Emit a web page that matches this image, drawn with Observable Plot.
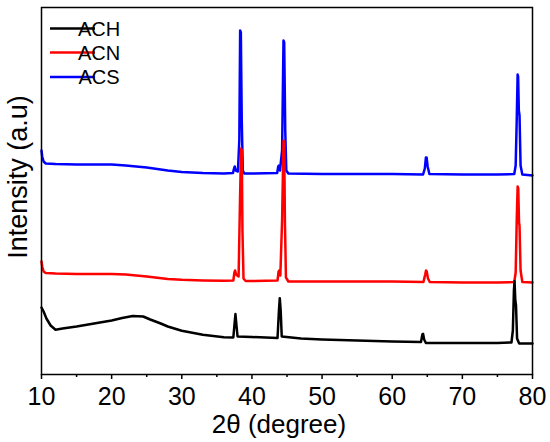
<!DOCTYPE html>
<html><head><meta charset="utf-8">
<script src="https://cdn.jsdelivr.net/npm/d3@7"></script>
<script src="https://cdn.jsdelivr.net/npm/@observablehq/plot@0.6"></script>
<style>body{margin:0;background:#fff} #chart{width:550px;height:442px}</style>
</head><body><div id="chart"></div>
<script>
const seriesNames = ["ACH", "ACN", "ACS"];
const seriesColors = ["#000000", "#ff0000", "#0000ff"];
const majorTicks = [10, 20, 30, 40, 50, 60, 70, 80];
const minorTicks = [15, 25, 35, 45, 55, 65, 75];
const xLabel = "2θ (degree)";
const yLabel = "Intensity (a.u)";

// [2θ, intensity (arbitrary units, offset stacked)]
const ACS = [[10.0,224],[10.1,218],[10.3,213],[10.6,211],[12,210.5],[15,210],[18,210],[20,210],[22,209],[25,207],[28,204],[30,202.5],[33,201.5],[36,201],[37.3,201.5],[37.45,206],[37.55,208],[37.7,204],[38.0,203],[38.2,234],[38.32,344],[38.42,342],[38.55,254],[38.7,204],[38.9,201],[40,201],[43.6,201.5],[43.75,208],[43.85,209],[44.0,204],[44.3,224],[44.5,334],[44.6,332],[44.75,244],[44.9,204],[45.2,201],[50,200.5],[55,200.5],[60,200.5],[64.4,200],[64.65,206],[64.8,217],[64.9,217],[65.05,208],[65.3,200.5],[70,200],[75,200],[77.4,200.5],[77.6,209],[77.75,254],[77.88,300],[77.95,298],[78.05,264],[78.15,259],[78.3,209],[78.55,200],[80,199]];
const ACN = [[10.0,113],[10.1,108],[10.3,103],[10.6,101.5],[12,101],[15,100.5],[18,100.5],[20,100.5],[22,100],[25,98],[28,95.5],[30,94.7],[33,94],[36,93.7],[37.35,94],[37.5,102],[37.6,104],[37.75,100],[38.1,98],[38.3,174],[38.45,226],[38.55,224],[38.65,144],[38.8,96],[39.1,93.5],[40,93.5],[43.65,94],[43.8,103],[43.9,104],[44.05,99],[44.3,154],[44.5,234],[44.6,232],[44.7,154],[44.85,97],[45.2,93],[50,93],[55,93],[60,93],[64.45,92.5],[64.7,100],[64.82,104],[64.92,103],[65.1,96],[65.35,92.5],[70,92],[75,92],[77.4,92.5],[77.6,102],[77.75,154],[77.88,188],[77.97,186],[78.08,152],[78.15,149],[78.3,104],[78.55,92.5],[80,92]];
const ACH = [[10.0,67],[10.3,63],[10.7,56],[11.3,49],[12.0,44.7],[13,46],[15,48],[17.5,51],[20,54],[21.5,56.5],[23,58.5],[24.5,58],[25.5,55],[27,51],[28,48],[30,43.7],[33,39.7],[36,37.3],[37.35,37],[37.5,49],[37.65,60.5],[37.8,49],[37.95,38],[40,37.5],[43.65,36.5],[43.85,64],[43.97,76.3],[44.1,64],[44.25,38],[47,36],[50,35],[55,34],[60,33],[64.1,32.5],[64.3,40],[64.4,40.7],[64.55,35],[64.8,31.5],[70,31.5],[75,31.5],[77.0,32],[77.2,44],[77.35,84],[77.44,93.3],[77.55,74],[77.65,69],[77.8,36],[78.1,31],[80,31]];

const seriesData = {ACH, ACN, ACS};
const drawOrder = ["ACS", "ACN", "ACH"];
const data = [];
for (const s of drawOrder) for (const [x, y] of seriesData[s]) data.push({x, y, s});

const W = 550, H = 442, mL = 41, mR = 18, mT = 7, mB = 68;
const font = "'Liberation Sans', Arial, Helvetica, sans-serif";

const svg = Plot.plot({
  width: W, height: H,
  marginLeft: mL, marginRight: mR, marginTop: mT, marginBottom: mB,
  x: {domain: [10, 80]},
  y: {domain: [0, 367], axis: null},
  color: {domain: seriesNames, range: seriesColors},
  style: {fontFamily: font, fontSize: "25px", color: "black", background: "white"},
  marks: [
    Plot.line(data, {x: "x", y: "y", z: "s", stroke: "s", strokeWidth: 2.5, strokeLinejoin: "round"}),
    Plot.frame({stroke: "black", strokeWidth: 1.5}),
    Plot.axisX({ticks: majorTicks, tickSize: 5, tickPadding: 8, label: null, strokeWidth: 1.5, fontSize: 25, tickFormat: d => String(d)}),
    Plot.axisX({ticks: minorTicks, tickSize: 3, label: null, strokeWidth: 1.5, tickFormat: () => ""})
  ]
});

d3.select(svg).selectAll('g[aria-label="x-axis tick label"]').style("font-size", "25px");

const g = d3.select(svg).append("g").style("font-family", font).attr("fill", "black");
g.append("text").attr("x", 279).attr("y", 433).attr("text-anchor", "middle")
  .style("font-size", "26px").text(xLabel);
g.append("text").attr("transform", "translate(27,177) rotate(-90)").attr("text-anchor", "middle")
  .style("font-size", "27px").text(yLabel);

const legendY = [28.5, 52.5, 77];
seriesNames.forEach((name, i) => {
  g.append("line").attr("x1", 50).attr("x2", 95).attr("y1", legendY[i]).attr("y2", legendY[i])
    .attr("stroke", seriesColors[i]).attr("stroke-width", 2.5);
  g.append("text").attr("x", 99).attr("y", legendY[i]).attr("dy", "0.36em")
    .style("font-size", "20px").text(name);
});

document.getElementById("chart").appendChild(svg);
</script>
</body></html>
